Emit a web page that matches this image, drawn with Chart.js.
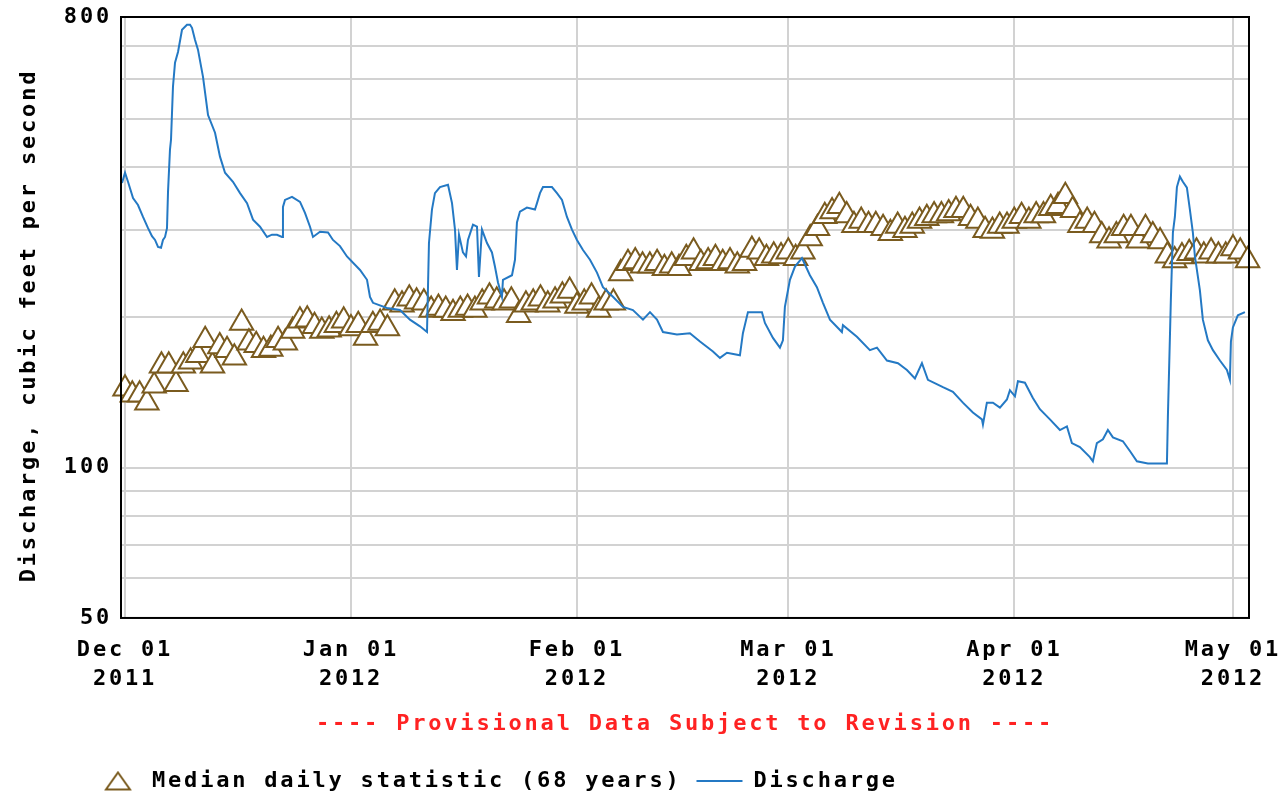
<!DOCTYPE html>
<html>
<head>
<meta charset="utf-8">
<script src="https://cdn.jsdelivr.net/npm/chart.js@4/dist/chart.umd.min.js"></script>
<style>
  html, body { margin: 0; padding: 0; background: #fff; }
  #wrap { width: 1283px; height: 797px; }
</style>
</head>
<body>
<div id="wrap"><canvas id="flow" width="1283" height="797"></canvas></div>
<script>
// x axis is in days after Dec 01 2011
const xTickDays = [0, 31, 62, 91, 122, 152];
const xTickMonths = ['Dec 01', 'Jan 01', 'Feb 01', 'Mar 01', 'Apr 01', 'May 01'];
const xTickYears = ['2011', '2012', '2012', '2012', '2012', '2012'];

const yTickValues = [50, 60, 70, 80, 90, 100, 200, 300, 400, 500, 600, 700, 800];
const yLabelled = [50, 100, 800];

// median daily statistic, one value per day from Dec 01
const medianCfs = [
    144, 140, 140, 135, 146, 160, 160, 147, 160, 163,
    168, 180, 160, 175, 172, 166, 195, 178, 176, 172,
    173, 180, 178, 188, 197, 198, 192, 188, 189, 193,
    197, 190, 193, 182, 193, 195, 190, 214, 212, 218,
    215, 214, 207, 209, 207, 204, 207, 209, 207, 214,
    220, 216, 214, 216, 202, 212, 214, 218, 212, 216,
    221, 226, 211, 214, 220, 207, 214, 214, 245, 257,
    259, 254, 254, 257, 251, 254, 251, 263, 271, 257,
    259, 263, 257, 259, 254, 257, 273, 271, 263, 266,
    265, 271, 263, 271, 288, 302, 319, 326, 334, 320,
    306, 312, 306, 306, 302, 295, 305, 299, 305, 312,
    316, 320, 320, 323, 328, 328, 316, 312, 299, 298,
    305, 305, 312, 319, 312, 320, 320, 331, 334, 350,
    328, 306, 312, 306, 292, 285, 292, 302, 302, 285,
    302, 292, 284, 266, 260, 265, 269, 271, 266, 271,
    266, 266, 275, 271, 260
];

// discharge readings: [day, cfs]
const dischargeReadings = [
    [-0.41, 372], [0, 390], [0.41, 374], [1.1, 347], [1.78, 336], [2.47, 318],
    [3.16, 302], [3.7, 291], [4.12, 286], [4.53, 277], [4.94, 276], [5.21, 286],
    [5.49, 290], [5.76, 302], [5.9, 357], [6.17, 434], [6.31, 454], [6.58, 580],
    [6.86, 648], [7.27, 681], [7.82, 754], [8.5, 772], [8.92, 772], [9.19, 761],
    [9.6, 720], [10.01, 688], [10.7, 607], [11.39, 509], [12.35, 469], [13.03, 420],
    [13.72, 390], [14.81, 374], [15.78, 355], [16.74, 339], [17.56, 314], [18.52, 304],
    [19.48, 290], [20.16, 293], [20.85, 293], [21.54, 290], [21.67, 333], [21.95, 344],
    [22.91, 349], [24.01, 341], [24.69, 324], [25.38, 304], [25.79, 290], [26.75, 297],
    [27.85, 296], [28.53, 286], [29.49, 278], [30.45, 265], [32.24, 249], [33.2, 238],
    [33.61, 220], [34.02, 214], [35.94, 209], [37.72, 207], [39.09, 198], [40.47, 192],
    [41.43, 187], [41.7, 282], [42.11, 329], [42.52, 355], [43.21, 365], [44.31, 369],
    [44.86, 339], [45.27, 300], [45.54, 249], [45.82, 293], [46.36, 270], [46.78, 265],
    [47.05, 286], [47.74, 307], [48.29, 304], [48.56, 241], [48.97, 300], [49.66, 282],
    [50.34, 270], [50.75, 253], [51.17, 235], [51.71, 220], [51.85, 238], [53.09, 243],
    [53.5, 261], [53.77, 310], [54.18, 326], [55.14, 332], [56.24, 329], [56.52, 339],
    [56.93, 355], [57.34, 365], [58.57, 365], [59.26, 355], [59.95, 344], [60.63, 318],
    [61.32, 300], [62, 286], [62.83, 273], [63.79, 261], [64.75, 246], [65.57, 230],
    [66.94, 220], [68.31, 210], [69.68, 207], [71.06, 198], [72.02, 205], [72.98, 198],
    [73.8, 187], [75.72, 185], [77.5, 186], [78.88, 179], [80.66, 171], [81.62, 166],
    [82.58, 170], [84.36, 168], [84.77, 186], [85.46, 205], [87.38, 205], [87.79, 195],
    [88.89, 182], [89.85, 174], [90.26, 180], [90.53, 210], [91.22, 238], [91.91, 253],
    [92.87, 263], [93.96, 243], [94.92, 230], [95.75, 214], [96.71, 198], [98.35, 187],
    [98.49, 193], [100.41, 183], [102.19, 172], [103.16, 174], [104.53, 164], [106.04, 162],
    [107.27, 157], [108.37, 151], [109.33, 162], [110.15, 150], [112.21, 145], [113.58, 142],
    [114.95, 135], [116.32, 129], [117.56, 125], [117.7, 122], [118.24, 135], [119.07, 135],
    [120.03, 132], [120.99, 137], [121.4, 143], [122.09, 139], [122.5, 149], [123.46, 148],
    [124.55, 138], [125.51, 131], [126.89, 125], [128.26, 119], [129.22, 121], [129.9, 112],
    [131, 110], [132.37, 105], [132.78, 103], [133.33, 112], [134.16, 114], [134.84, 119],
    [135.53, 115], [136.9, 113], [137.86, 108], [138.82, 103], [140.33, 102], [142.94, 102],
    [143.07, 126], [143.48, 217], [143.76, 296], [144.03, 318], [144.31, 365], [144.72, 383],
    [145.13, 374], [145.68, 364], [146.09, 329], [146.5, 296], [146.78, 265], [147.46, 227],
    [147.87, 198], [148.56, 180], [149.25, 172], [150.21, 164], [151.17, 157], [151.58, 150],
    [151.72, 179], [151.99, 191], [152.67, 202], [153.64, 205]
];

const brown = '#7a5b1f';
const blue = '#2479c4';
const gridGrey = '#d2d2d2';
const monoFont = { family: '"DejaVu Sans Mono", "Liberation Mono", monospace', size: 22, weight: 'bold', lineHeight: 1.32 };

// wide spacing like the original bitmap font
const spacing = {
    id: 'spacing',
    beforeLayout(chart) { chart.ctx.letterSpacing = '2.8px'; },
    beforeDraw(chart) { chart.ctx.letterSpacing = '2.8px'; }
};

// black frame round the plot
const frame = {
    id: 'frame',
    afterDraw(chart) {
        const a = chart.chartArea;
        const ctx = chart.ctx;
        ctx.save();
        ctx.strokeStyle = '#000';
        ctx.lineWidth = 2;
        ctx.strokeRect(a.left, a.top, a.right - a.left, a.bottom - a.top);
        ctx.restore();
    }
};

function triangleIcon() {
    let c = document.createElement('canvas');
    c.width = 28;
    c.height = 21;
    let g = c.getContext('2d');
    g.fillStyle = '#fff';
    g.strokeStyle = brown;
    g.lineWidth = 2;
    g.beginPath();
    g.moveTo(14, 2);
    g.lineTo(26, 19);
    g.lineTo(2, 19);
    g.closePath();
    g.fill();
    g.stroke();
    return c;
}
const legendTriangle = triangleIcon();

let flow = document.getElementById('flow');
let flowChart = new Chart(flow, {
    type: 'line',
    data: {
        datasets: [{
            label: 'Discharge',
            data: dischargeReadings.map(r => ({ x: r[0], y: r[1] })),
            borderColor: blue,
            backgroundColor: blue,
            borderWidth: 2,
            pointRadius: 0,
            pointStyle: 'line',
            tension: 0,
        }, {
            label: 'Median daily statistic (68 years)',
            data: medianCfs.map((v, i) => ({ x: i, y: v })),
            showLine: false,
            pointStyle: 'triangle',
            pointRadius: 13.5,
            pointBorderWidth: 2,
            pointBorderColor: brown,
            pointBackgroundColor: '#fff',
            borderColor: brown,
            backgroundColor: '#fff',
            clip: false,
        }]
    },
    options: {
        responsive: false,
        animation: false,
        events: [],
        layout: {
            padding: { top: 17, right: 34, left: 80, bottom: -5 }
        },
        scales: {
            x: {
                type: 'linear',
                min: -0.55,
                max: 154.2,
                afterBuildTicks: axis => { axis.ticks = xTickDays.map(d => ({ value: d })); },
                afterFit: axis => { axis.height = 80; axis.paddingLeft = 0; axis.paddingRight = 0; },
                grid: { color: gridGrey, lineWidth: 2, drawTicks: false },
                border: { display: false },
                ticks: {
                    autoSkip: false,
                    maxRotation: 0,
                    padding: 18,
                    color: '#000',
                    font: monoFont,
                    callback: value => {
                        let i = xTickDays.indexOf(value);
                        return i < 0 ? '' : [xTickMonths[i], xTickYears[i]];
                    }
                }
            },
            y: {
                type: 'logarithmic',
                min: 50,
                max: 800,
                afterBuildTicks: axis => { axis.ticks = yTickValues.map(v => ({ value: v })); },
                afterFit: axis => {
                    axis.width = 41;
                    axis.paddingTop = 0;
                    axis.paddingBottom = 0;
                    // labels reach left of the narrow axis box, so do not clip them
                    axis._computeLabelArea = () => null;
                },
                grid: { color: gridGrey, lineWidth: 2, drawTicks: false },
                border: { display: false },
                ticks: {
                    autoSkip: false,
                    padding: 9,
                    color: '#000',
                    font: monoFont,
                    callback: value => yLabelled.includes(value) ? String(value) : ''
                },
                title: {
                    display: true,
                    text: 'Discharge, cubic feet per second ',
                    color: '#000',
                    font: monoFont,
                    padding: { top: -65, bottom: 0 }
                }
            }
        },
        plugins: {
            tooltip: { enabled: false },
            title: {
                display: true,
                text: '---- Provisional Data Subject to Revision ----',
                position: 'bottom',
                fullSize: false,
                weight: 500,
                color: '#ff2222',
                font: monoFont,
                padding: { top: 12, bottom: 16 }
            },
            legend: {
                position: 'bottom',
                align: 'start',
                reverse: true,
                labels: {
                    usePointStyle: true,
                    pointStyleWidth: 46,
                    boxHeight: 20,
                    padding: 15,
                    color: '#000',
                    font: monoFont,
                    generateLabels: chart => {
                        let items = Chart.defaults.plugins.legend.labels.generateLabels(chart);
                        items.forEach(item => {
                            if (item.datasetIndex === 1) item.pointStyle = legendTriangle;
                        });
                        return items;
                    }
                }
            }
        }
    },
    plugins: [spacing, frame]
});
</script>
</body>
</html>
